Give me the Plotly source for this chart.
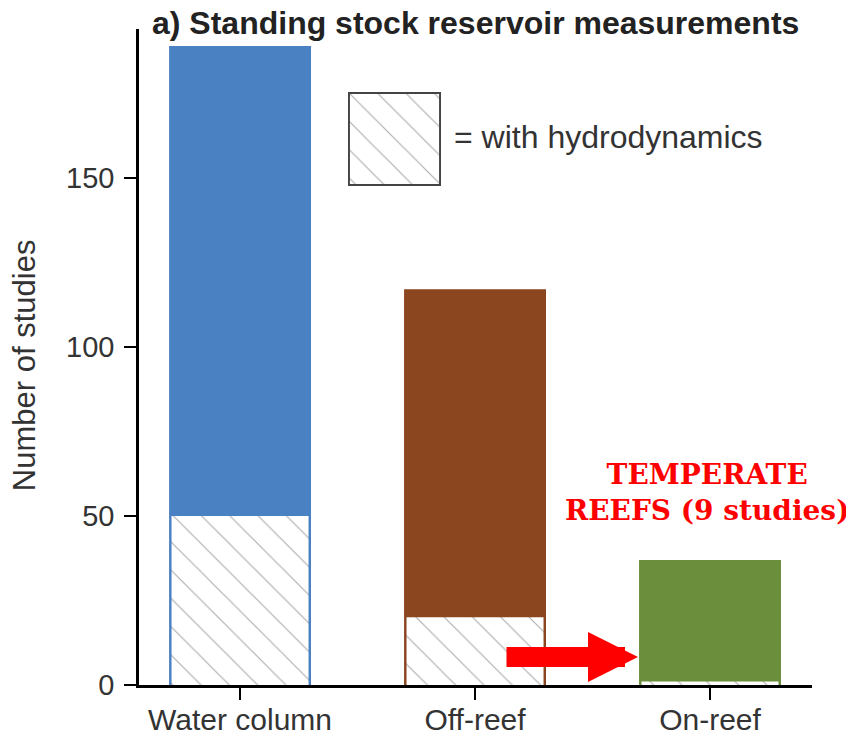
import plotly.graph_objects as go

# data
categories = ["Water column", "Off-reef", "On-reef"]
total_studies = [189, 117, 37]
with_hydrodynamics = [50, 20, 1]
bar_colors = ["#4a81c3", "#8b4620", "#6b8e3c"]
y_ticks = [0, 50, 100, 150]

font_family = "Liberation Sans, Arial, sans-serif"
hatch = dict(shape="\\", fgcolor="#5e5e5e", bgcolor="white", size=20, solidity=0.06)

# the page body adds an 8px margin, so the figure is 8px smaller each way
W, H = 846, 727

fig = go.Figure()

# full bars
fig.add_trace(go.Bar(
    x=categories,
    y=total_studies,
    width=0.604,
    marker=dict(color=bar_colors, line=dict(width=0)),
    showlegend=False,
))

# hatched part = studies with hydrodynamics
fig.add_trace(go.Bar(
    x=categories,
    y=with_hydrodynamics,
    width=0.583,
    marker=dict(color="white", pattern=hatch, line=dict(width=0)),
    showlegend=False,
))

# legend swatch drawn as a bar on its own little axes
fig.add_trace(go.Bar(
    x=[0],
    y=[1],
    width=1,
    xaxis="x2",
    yaxis="y2",
    marker=dict(color="white", pattern=hatch, line=dict(color="#444444", width=2)),
    showlegend=False,
))

fig.update_layout(
    width=W,
    height=H,
    barmode="overlay",
    plot_bgcolor="white",
    paper_bgcolor="white",
    margin=dict(l=131, r=42, t=21, b=50),
    font=dict(family=font_family, color="#333333"),
    title=dict(
        text="<b>a) Standing stock reservoir measurements</b>",
        x=144 / W,
        xanchor="left",
        y=1 - 15 / H,
        yanchor="middle",
        font=dict(size=32, color="#222222", family=font_family),
    ),
    xaxis=dict(
        range=[-0.43, 2.434],
        showline=True,
        linecolor="black",
        linewidth=2.5,
        ticks="outside",
        ticklen=12,
        tickwidth=2,
        tickcolor="black",
        tickfont=dict(size=30, color="#333333"),
        ticklabelstandoff=-6,
        showgrid=False,
        zeroline=False,
        automargin=False,
    ),
    yaxis=dict(
        range=[0, 194],
        tickvals=y_ticks,
        showline=True,
        linecolor="black",
        linewidth=2.5,
        ticks="outside",
        ticklen=12,
        tickwidth=2,
        tickcolor="black",
        tickfont=dict(size=29, color="#333333"),
        ticklabelstandoff=4,
        showgrid=False,
        zeroline=False,
        automargin=False,
    ),
    xaxis2=dict(domain=[0.3106, 0.4487], range=[-0.51, 0.51], anchor="y2", visible=False),
    yaxis2=dict(domain=[0.7607, 0.904], range=[-0.01, 1.01], anchor="x2", visible=False),
)

# y axis title
fig.add_annotation(
    text="Number of studies",
    xref="paper", yref="paper",
    x=-0.169, y=0.488,
    textangle=-90,
    xanchor="center", yanchor="middle",
    showarrow=False,
    font=dict(size=31, color="#333333"),
)

fig.add_annotation(
    text="= with hydrodynamics",
    xref="paper", yref="paper",
    x=(452 - 139) / 673, y=(685 - 137) / 656,
    xanchor="left", yanchor="middle",
    showarrow=False,
    font=dict(size=32, color="#333333"),
)

fig.add_annotation(
    text="<b>TEMPERATE<br>REEFS (9 studies)</b>",
    xref="paper", yref="paper",
    x=(707 - 139) / 673, y=(685 - 492) / 656,
    xanchor="center", yanchor="middle",
    showarrow=False,
    font=dict(size=28, color="#ff0000", family="DejaVu Serif, serif"),
)

# red arrow pointing to the on-reef bar
fig.add_annotation(
    text="",
    xref="paper", yref="paper",
    x=(638 - 139) / 673, y=(685 - 657) / 656,
    ax=-133, ay=0,
    showarrow=True,
    arrowhead=2,
    arrowsize=0.5,
    arrowwidth=20,
    arrowcolor="#ff0000",
)

fig.write_html("out.html")
